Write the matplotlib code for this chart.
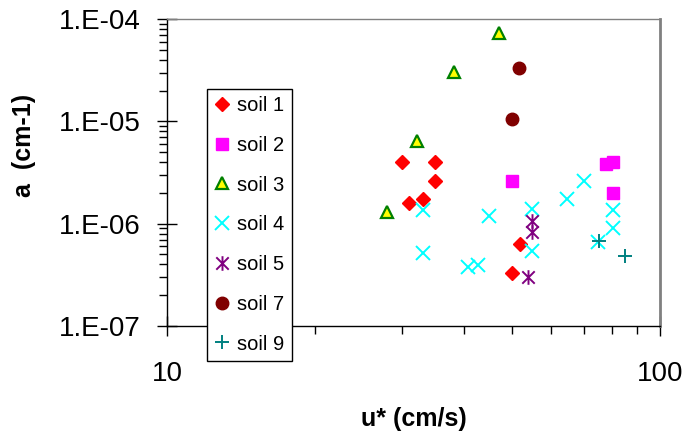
import math
import matplotlib
matplotlib.use("Agg")
import matplotlib.pyplot as plt
from matplotlib.path import Path
from matplotlib.ticker import FixedLocator, FuncFormatter, LogLocator, NullFormatter

plt.rcParams['font.family'] = ['Liberation Sans', 'DejaVu Sans']

# data
soil1_u = [30.0, 35.0, 35.0, 30.9, 33.1, 51.9, 50.0]
soil1_a = [4.0e-6, 4.0e-6, 2.6e-6, 1.58e-6, 1.73e-6, 6.3e-7, 3.3e-7]

soil2_u = [50.0, 77.7, 80.2, 80.2]
soil2_a = [2.61e-6, 3.83e-6, 3.98e-6, 2.0e-6]

soil3_u = [28.0, 32.1, 38.2, 47.2]
soil3_a = [1.29e-6, 6.47e-6, 3.01e-5, 7.25e-5]

soil4_u = [33.1, 33.1, 40.7, 42.8, 45.0, 55.0, 55.0, 64.9, 70.1, 80.2, 80.2, 74.8]
soil4_a = [1.36e-6, 5.2e-7, 3.8e-7, 3.97e-7, 1.2e-6, 1.38e-6, 5.4e-7, 1.73e-6,
           2.61e-6, 1.36e-6, 9.1e-7, 6.67e-7]

soil5_u = [55.0, 55.0, 54.0]
soil5_a = [1.07e-6, 8.24e-7, 2.99e-7]

soil7_u = [51.8, 50.0]
soil7_a = [3.30e-5, 1.05e-5]

soil9_u = [75.2, 84.9]
soil9_a = [6.81e-7, 4.86e-7]

# excel-like star marker: vertical bar plus an X
star = Path([(0, -1), (0, 1), (-0.85, -0.85), (0.85, 0.85), (-0.85, 0.85), (0.85, -0.85)],
            [Path.MOVETO, Path.LINETO, Path.MOVETO, Path.LINETO, Path.MOVETO, Path.LINETO])

fig = plt.figure(figsize=(6.86, 4.33), dpi=100)
ax = fig.add_axes([167/686, 1 - 326/433, 493/686, 307/433])
ax.set_xscale('log')
ax.set_yscale('log')

ax.plot(soil1_u, soil1_a, ls='none', marker='D', ms=7.5, color='#FF0000', mec='#FF0000', label='soil 1')
ax.plot(soil2_u, soil2_a, ls='none', marker='s', ms=9, color='#FF00FF', mec='#FF00FF', label='soil 2')
ax.plot(soil3_u, soil3_a, ls='none', marker='^', ms=9, mfc='#FFFF00', mec='#008000', mew=1.6, label='soil 3')
ax.plot(soil4_u, soil4_a, ls='none', marker='x', ms=9.5, color='#00FFFF', mew=1.4, label='soil 4')
ax.plot(soil5_u, soil5_a, ls='none', marker=star, ms=10.5, color='#800080', mew=1.4, label='soil 5')
ax.plot(soil7_u, soil7_a, ls='none', marker='o', ms=9, color='#800000', label='soil 7')
ax.plot(soil9_u, soil9_a, ls='none', marker='+', ms=10, color='#008080', mew=1.4, label='soil 9')

ax.set_xlim(10, 100)
ax.set_ylim(1e-7, 1e-4)

ax.xaxis.set_major_locator(FixedLocator([10, 100]))
ax.xaxis.set_major_formatter(FuncFormatter(lambda v, p: '%d' % round(v)))
ax.xaxis.set_minor_locator(LogLocator(base=10, subs=range(2, 10)))
ax.xaxis.set_minor_formatter(NullFormatter())
ax.yaxis.set_major_locator(FixedLocator([1e-7, 1e-6, 1e-5, 1e-4]))
ax.yaxis.set_major_formatter(FuncFormatter(lambda v, p: '1.E-%02d' % round(-math.log10(v))))
ax.yaxis.set_minor_locator(LogLocator(base=10, subs=range(2, 10)))
ax.yaxis.set_minor_formatter(NullFormatter())

ax.tick_params(which='major', direction='inout', length=14, width=1, labelsize=20, pad=12, colors='black')
ax.tick_params(axis='x', which='major', pad=18)
ax.tick_params(which='minor', direction='out', length=6, width=1)

for s in ['left', 'bottom']:
    ax.spines[s].set_color('black')
    ax.spines[s].set_linewidth(1)
ax.spines['top'].set_color('#808080')
ax.spines['top'].set_linewidth(1)
ax.spines['right'].set_color('#808080')
ax.spines['right'].set_linewidth(2)

ax.set_xlabel('u* (cm/s)', fontsize=18, fontweight='bold', va='center')
ax.xaxis.set_label_coords(0.5, (326 - 419) / 307)
ax.set_ylabel('a  (cm-1)', fontsize=18, fontweight='bold', va='center')
ax.yaxis.set_label_coords((24 - 167) / 493, (326 - 145) / 307)

leg = ax.legend(loc='upper left', bbox_to_anchor=(207/686, 1 - 89/433), bbox_transform=fig.transFigure,
                borderaxespad=0, fontsize=14.5, frameon=True, fancybox=False, framealpha=1,
                edgecolor='black', labelspacing=1.03, handlelength=0.8, handletextpad=0.35,
                borderpad=0.35, numpoints=1)
leg.get_frame().set_linewidth(1)

fig.savefig('out.png', dpi=100)
